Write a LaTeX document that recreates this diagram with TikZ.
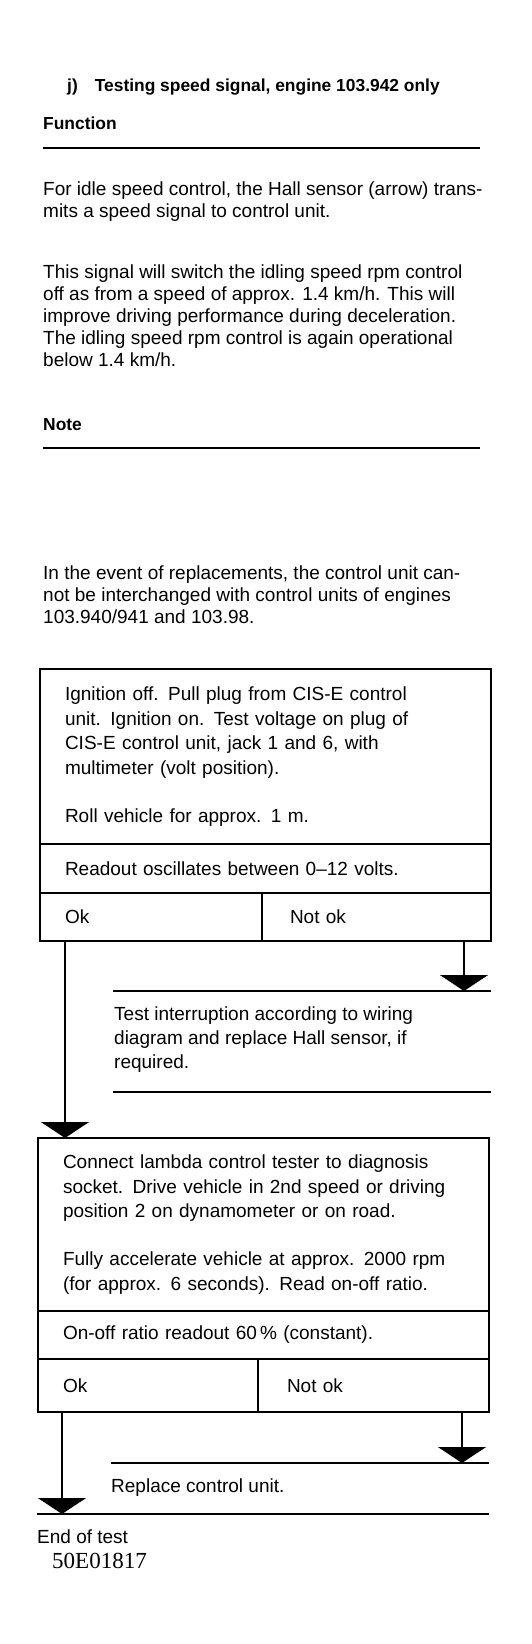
\documentclass[tikz,border=0pt]{standalone}
\usepackage{fontspec}
\setmainfont{Liberation Sans}
\newfontfamily\codefont{Liberation Serif}
\usetikzlibrary{arrows.meta,positioning}

\tikzset{
  body/.style={anchor=base west, align=left, inner sep=0pt,
    font=\fontsize{19}{22}\selectfont},
  head/.style={anchor=base west, inner sep=0pt,
    font=\fontsize{17.4}{22}\selectfont\bfseries},
  cell/.style={draw, line width=1.6pt, anchor=north west, inner xsep=25pt,
    inner ysep=0pt, outer sep=0pt, align=left, font=\fontsize{19}{24.7}\selectfont},
  rule/.style={line width=1.6pt},
  flow/.style={line width=1.6pt, -{Triangle[width=48pt,length=16pt]}},
}

\begin{document}
\begin{tikzpicture}[x=1pt, y=1pt]
  \useasboundingbox (0,0) rectangle (532,-1644);

  % heading and function text (multi-line nodes sit on their last line)
  \node[head] (title) at (67,-91) {j)\hspace{17pt}Testing speed signal, engine 103.942 only};
  \node[head] (func) at (43,-129) {Function};
  \draw[rule] (43,-148) coordinate (f1) -- (480,-148) coordinate (f2);
  \node[body] (idle) at (43,-217) {For idle speed control, the Hall sensor (arrow) trans-\\
    mits a speed signal to control unit.};
  \node[body] (sig) at (43,-366) {This signal will switch the idling speed rpm control\\
    off as from a speed of approx. 1.4 km/h. This will\\
    improve driving performance during deceleration.\\
    The idling speed rpm control is again operational\\
    below 1.4 km/h.};
  \node[head] (note) at (43,-430) {Note};
  \draw[rule] (43,-448) coordinate (n1) -- (480,-448) coordinate (n2);
  \node[body] (repl) at (43,-623) {In the event of replacements, the control unit can-\\
    not be interchanged with control units of engines\\
    103.940/941 and 103.98.};

  % first test step
  \node[cell, text width=401pt, minimum height=175pt] (box1) at (40,-669)
    {Ignition off. Pull plug from CIS-E control\\
     unit. Ignition on. Test voltage on plug of\\
     CIS-E control unit, jack 1 and 6, with\\
     multimeter (volt position).\\[23pt]
     Roll vehicle for approx. 1 m.};
  \node[cell, text width=401pt, minimum height=49pt] (read1) at (box1.south west)
    {Readout oscillates between 0--12 volts.};
  \node[cell, text width=172pt, minimum height=48pt] (ok1) at (read1.south west) {Ok};
  \node[cell, inner xsep=28pt, text width=173pt, minimum height=48pt] (nok1) at (ok1.north east) {Not ok};

  \coordinate (r1) at (113,-991);
  \draw[rule] (r1) -- (491,-991) coordinate (r1e);
  \node[body, font=\fontsize{19}{24}\selectfont] (hall) at (114,-1068)
    {Test interruption according to wiring\\
     diagram and replace Hall sensor, if\\
     required.};
  \draw[rule] (113,-1092) coordinate (r2) -- (491,-1092) coordinate (r2e);
  \draw[flow] ([xshift=-27pt]nok1.south east) coordinate (d1) -- (d1 |- r1);

  % second test step
  \node[cell, text width=401pt, minimum height=173pt] (box2) at (38,-1138)
    {Connect lambda control tester to diagnosis\\
     socket. Drive vehicle in 2nd speed or driving\\
     position 2 on dynamometer or on road.\\[23pt]
     Fully accelerate vehicle at approx. 2000 rpm\\
     (for approx. 6 seconds). Read on-off ratio.};
  \draw[flow] ([xshift=25pt]ok1.south west) coordinate (d2) -- (d2 |- box2.north);
  \node[cell, text width=401pt, minimum height=48pt] (read2) at (box2.south west)
    {On-off ratio readout 60\,\% (constant).};
  \node[cell, text width=170pt, minimum height=53pt] (ok2) at (read2.south west) {Ok};
  \node[cell, inner xsep=29pt, text width=173pt, minimum height=53pt] (nok2) at (ok2.north east) {Not ok};

  \draw[rule] (111,-1463) coordinate (r3) -- (489,-1463) coordinate (r3e);
  \node[body] (unit) at (111,-1492) {Replace control unit.};
  \draw[rule] (37,-1514) coordinate (r4) -- (489,-1514) coordinate (r4e);
  \draw[flow] ([xshift=-27pt]nok2.south east) coordinate (d3) -- (d3 |- r3);
  \draw[flow] ([xshift=24pt]ok2.south west) coordinate (d4) -- (d4 |- r4);

  \node[body] (end) at (37,-1543) {End of test};
  \node[anchor=base west, inner sep=0pt, font=\codefont\fontsize{23}{24}\selectfont] (code) at (52,-1568) {50E01817};
\end{tikzpicture}
\end{document}
